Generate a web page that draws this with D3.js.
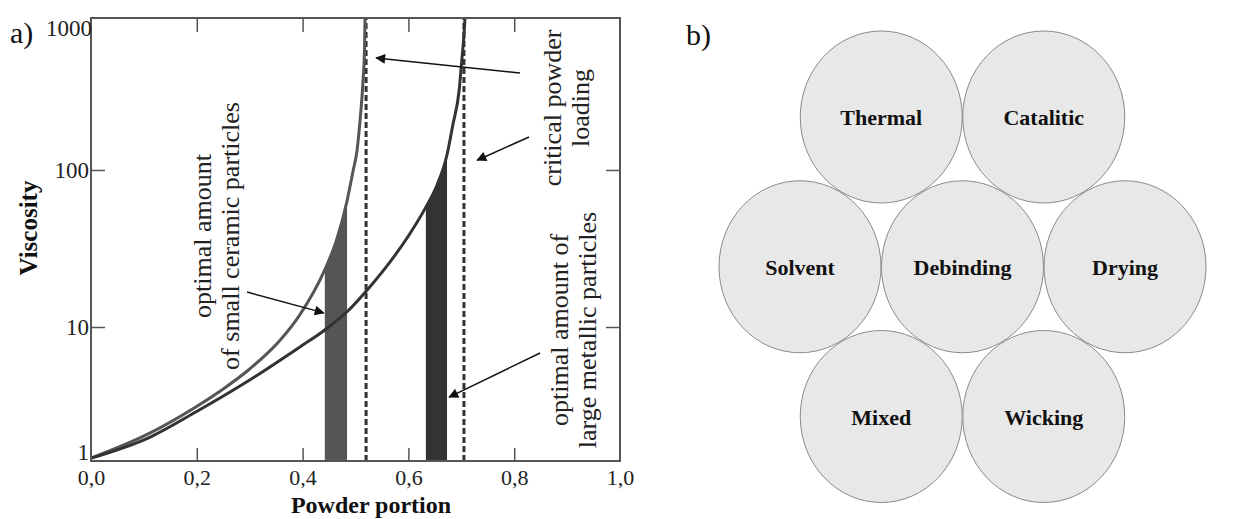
<!DOCTYPE html>
<html>
<head>
<meta charset="utf-8">
<script src="https://cdn.jsdelivr.net/npm/d3@7"></script>
<style>
body { margin: 0; background: #fff; }
text { font-family: "Liberation Serif", serif; }
</style>
</head>
<body>
<svg width="1235" height="519"></svg>
<script>
// ---- panel a) values ----
var xTicks = [0, 0.2, 0.4, 0.6, 0.8, 1.0]
var yTicks = [1, 10, 100, 1000]
var innerXTicks = [0.2, 0.4, 0.6, 0.8]
var innerYTicks = [10, 100]

// small ceramic particles (lighter curve)
var ceramicX = [0, 0.112, 0.198, 0.25, 0.3, 0.357, 0.395, 0.442, 0.463, 0.484, 0.495, 0.503, 0.509, 0.514, 0.517, 0.518]
var ceramicV = [1.05, 1.62, 2.53, 3.45, 4.86, 7.93, 12.0, 23.2, 34.8, 63.5, 97, 135, 220, 373, 617, 1000]

// large metallic particles (darker curve)
var metallicX = [0, 0.112, 0.198, 0.3, 0.395, 0.442, 0.484, 0.527, 0.565, 0.6, 0.633, 0.654, 0.673, 0.684, 0.696, 0.701, 0.705, 0.707]
var metallicV = [1.05, 1.51, 2.32, 4.02, 7.1, 9.5, 12.5, 18.0, 25.9, 38, 58, 80, 126, 198, 336, 529, 773, 1000]

var ceramicBand = [0.442, 0.484]
var metallicBand = [0.633, 0.673]
var criticalX = [0.52, 0.705]

// annotation texts, anchored at (powder portion, viscosity)
var noteLines = [
    ["optimal amount", "of small ceramic particles"],
    ["critical powder", "loading"],
    ["optimal amount of", "large metallic particles"]
]
var noteX = [0.227, 0.888, 0.902]
var noteV = [38, 256, 9.5]

// arrows: tail -> tip
var arrowFrom = [[0.295, 16.7], [0.811, 434], [0.828, 165], [0.849, 6.4]]
var arrowTo = [[0.44, 12.3], [0.539, 546], [0.730, 116], [0.677, 3.0]]

// ---- panel b) ----
var methods = ["Thermal", "Catalitic", "Solvent", "Debinding", "Drying", "Mixed", "Wicking"]
var methodRow = [0, 0, 1, 1, 1, 2, 2]
var methodCol = [0.5, 1.5, 0, 1, 2, 0.5, 1.5]

var svg = d3.select("svg")

var x = d3.scaleLinear().domain([0, 1]).range([91, 620])
var y = d3.scaleLog().domain(yTicks).range([461, 327, 170, 18])

var ceramic = ceramicX.map((d, i) => ({x: d, v: ceramicV[i]}))
var metallic = metallicX.map((d, i) => ({x: d, v: metallicV[i]}))

var line = d3.line()
    .x(d => x(d.x))
    .y(d => y(d.v))
    .curve(d3.curveMonotoneX)

var area = d3.area()
    .x(d => x(d.x))
    .y0(y(1))
    .y1(d => y(d.v))
    .curve(d3.curveMonotoneX)

function inBand(band) {
    return d => d.x >= band[0] && d.x <= band[1]
}

// bars under the curves
svg.append("path")
    .attr("d", area(ceramic.filter(inBand(ceramicBand))))
    .attr("fill", "#555")

svg.append("path")
    .attr("d", area(metallic.filter(inBand(metallicBand))))
    .attr("fill", "#333")

// critical loading lines
svg.selectAll(".crit")
    .data(criticalX)
    .enter()
    .append("line")
    .attr("x1", d => x(d))
    .attr("x2", d => x(d))
    .attr("y1", y(1))
    .attr("y2", y(1000))
    .attr("stroke", "#333")
    .attr("stroke-width", 3)
    .attr("stroke-dasharray", "6,3")

svg.append("path")
    .attr("d", line(ceramic))
    .attr("fill", "none")
    .attr("stroke", "#555")
    .attr("stroke-width", 3)

svg.append("path")
    .attr("d", line(metallic))
    .attr("fill", "none")
    .attr("stroke", "#333")
    .attr("stroke-width", 3)

// frame
svg.append("rect")
    .attr("x", x(0))
    .attr("y", y(1000))
    .attr("width", x(1) - x(0))
    .attr("height", y(1) - y(1000))
    .attr("fill", "none")
    .attr("stroke", "#555")
    .attr("stroke-width", 2)

function styleTicks(g) {
    g.select(".domain").remove()
    g.selectAll("line").attr("stroke", "#555").attr("stroke-width", 1.5)
}

svg.append("g")
    .attr("transform", `translate(0, ${y(1)})`)
    .call(d3.axisBottom(x).tickValues(innerXTicks).tickFormat("").tickSize(-13))
    .call(styleTicks)

svg.append("g")
    .attr("transform", `translate(0, ${y(1000)})`)
    .call(d3.axisTop(x).tickValues(innerXTicks).tickFormat("").tickSize(-14))
    .call(styleTicks)

svg.append("g")
    .attr("transform", `translate(${x(0)}, 0)`)
    .call(d3.axisLeft(y).tickValues(innerYTicks).tickFormat("").tickSize(-14))
    .call(styleTicks)

svg.append("g")
    .attr("transform", `translate(${x(1)}, 0)`)
    .call(d3.axisRight(y).tickValues(innerYTicks).tickFormat("").tickSize(-14))
    .call(styleTicks)

// tick labels
var comma = d3.formatLocale({decimal: ",", thousands: ".", grouping: [3], currency: ["", ""]}).format(".1f")

svg.append("g")
    .attr("transform", `translate(0, ${y(1)})`)
    .call(d3.axisBottom(x).tickValues(xTicks).tickFormat(comma).tickSize(0).tickPadding(8))
    .call(g => g.select(".domain").remove())
    .attr("font-size", 22)
    .attr("color", "#222")

svg.append("g")
    .attr("transform", `translate(${x(0)}, 0)`)
    .call(d3.axisLeft(y).tickValues(yTicks).tickFormat(d3.format("d")).tickSize(0).tickPadding(2))
    .call(g => g.select(".domain").remove())
    .attr("font-size", 23)
    .attr("color", "#222")
    .call(g => g.selectAll("text")
        .attr("x", d => d === 1000 ? 1 : -2)
        .attr("y", d => d === 1000 ? 10 : d === 1 ? -9 : 0))

// axis titles
svg.append("text")
    .attr("x", 371)
    .attr("y", 513)
    .attr("text-anchor", "middle")
    .attr("font-size", 24)
    .attr("font-weight", "bold")
    .attr("fill", "#111")
    .text("Powder portion")

svg.append("text")
    .attr("transform", "translate(37, 228) rotate(-90)")
    .attr("text-anchor", "middle")
    .attr("font-size", 25)
    .attr("font-weight", "bold")
    .attr("fill", "#111")
    .text("Viscosity")

svg.append("text")
    .attr("x", 10)
    .attr("y", 43)
    .attr("font-size", 30)
    .attr("fill", "#111")
    .text("a)")

// annotations
var notes = svg.selectAll(".note")
    .data(noteLines)
    .enter()
    .append("text")
    .attr("transform", (d, i) => `translate(${x(noteX[i])}, ${y(noteV[i])}) rotate(-90)`)
    .attr("text-anchor", "middle")
    .attr("font-size", 26)
    .attr("fill", "#222")

notes.selectAll("tspan")
    .data(d => d)
    .enter()
    .append("tspan")
    .attr("x", 0)
    .attr("dy", (d, i) => i === 0 ? 0 : "1.07em")
    .text(d => d)

svg.append("defs")
    .append("marker")
    .attr("id", "head")
    .attr("viewBox", "0 0 10 10")
    .attr("refX", 9)
    .attr("refY", 5)
    .attr("markerUnits", "userSpaceOnUse")
    .attr("markerWidth", 13)
    .attr("markerHeight", 10)
    .attr("orient", "auto")
    .append("path")
    .attr("d", "M0,0L10,5L0,10Z")
    .attr("fill", "#111")

svg.selectAll(".arrow")
    .data(arrowFrom)
    .enter()
    .append("line")
    .attr("x1", d => x(d[0]))
    .attr("y1", d => y(d[1]))
    .attr("x2", (d, i) => x(arrowTo[i][0]))
    .attr("y2", (d, i) => y(arrowTo[i][1]))
    .attr("stroke", "#111")
    .attr("stroke-width", 1.5)
    .attr("marker-end", "url(#head)")

// ---- panel b) ----
var colX = d3.scaleLinear().domain([0, 2]).range([800, 1125])
var rowY = d3.scaleLinear().domain([0, 2]).range([117, 416.5])

svg.append("text")
    .attr("x", 686)
    .attr("y", 45)
    .attr("font-size", 30)
    .attr("fill", "#111")
    .text("b)")

var cells = svg.selectAll(".method")
    .data(methods)
    .enter()
    .append("g")
    .attr("transform", (d, i) => `translate(${colX(methodCol[i])}, ${rowY(methodRow[i])})`)

cells.append("ellipse")
    .attr("rx", 81)
    .attr("ry", 86)
    .attr("fill", "#e8e8e8")
    .attr("stroke", "#8a8a8a")
    .attr("stroke-width", 1)

cells.append("text")
    .attr("y", 8)
    .attr("text-anchor", "middle")
    .attr("font-size", 22)
    .attr("font-weight", "bold")
    .attr("fill", "#111")
    .text(d => d)
</script>
</body>
</html>
